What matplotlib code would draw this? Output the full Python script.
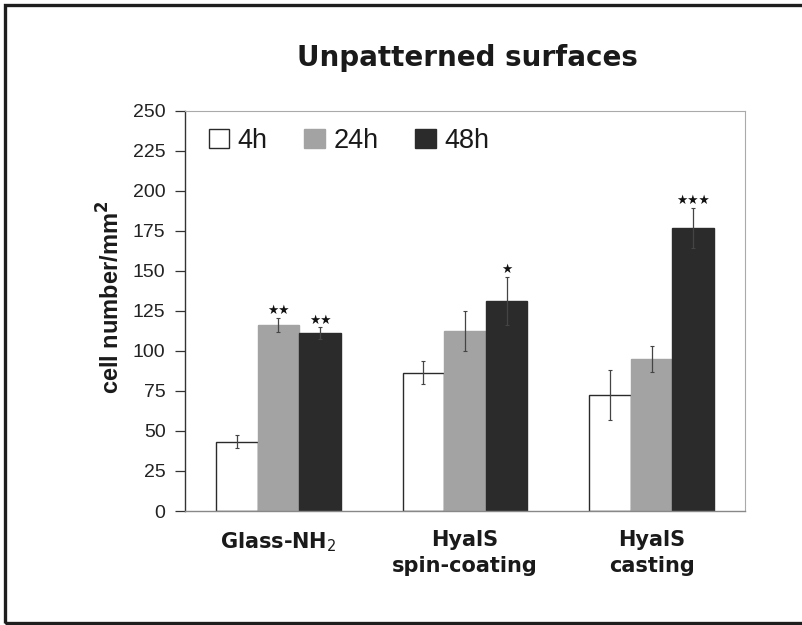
import matplotlib
matplotlib.use("Agg")
import matplotlib.pyplot as plt
from matplotlib.patches import Rectangle
import numpy as np

categories = ["Glass-NH$_2$", "HyalS\nspin-coating", "HyalS\ncasting"]
series = ["4h", "24h", "48h"]
values_4h = [43.3, 86.4, 72.5]
values_24h = [116.2, 112.6, 94.9]
values_48h = [111.2, 131.4, 177.0]
err_4h = [4.0, 7.3, 15.5]
err_24h = [4.5, 12.5, 8.0]
err_48h = [3.5, 15.0, 12.5]
stars_4h = ["", "", ""]
stars_24h = ["★★", "", ""]
stars_48h = ["★★", "★", "★★★"]
yticks = list(range(0, 251, 25))
title = "Unpatterned surfaces"
ylabel = "cell number/mm$^{\\mathbf{2}}$"

W, H = 803, 625
fig = plt.figure(figsize=(W / 100, H / 100), dpi=100)
fig.patch.set_facecolor("white")

# outer frame
fig.patches.append(Rectangle((5 / W, 2 / H), 1.2, 618 / H, transform=fig.transFigure,
                             fill=False, edgecolor="#1e1e1e", linewidth=2.4))

ax = fig.add_axes([185 / W, 1 - 511 / H, 560 / W, 400.3 / H])

x = np.arange(len(categories))
bw = 0.223
colors = ["white", "#a3a3a3", "#2b2b2b"]
edges = ["#2a2a2a", "#a3a3a3", "#2b2b2b"]
all_vals = [values_4h, values_24h, values_48h]
all_errs = [err_4h, err_24h, err_48h]
all_stars = [stars_4h, stars_24h, stars_48h]
handles = []
for i, (vals, errs, stars) in enumerate(zip(all_vals, all_errs, all_stars)):
    pos = x + (i - 1) * bw
    b = ax.bar(pos, vals, width=bw, color=colors[i], edgecolor=edges[i], linewidth=1.0,
               label=series[i], zorder=2)
    handles.append(b)
    ax.errorbar(pos, vals, yerr=errs, fmt="none", ecolor="#444444", elinewidth=0.9,
                capsize=1.5, capthick=0.8, zorder=3)
    for p, v, e, s in zip(pos, vals, errs, stars):
        if s:
            ax.text(p, v + e + 4.5, s, ha="center", va="center", fontsize=9,
                    family="DejaVu Sans", color="#111111")

ax.set_xlim(-0.5, 2.5)
ax.set_ylim(0, 250)
ax.set_yticks(yticks)
ax.set_yticklabels([str(t) for t in yticks], fontsize=14, family="Liberation Sans",
                   color="#222222")
ax.tick_params(axis="y", direction="out", length=7, width=0.9, pad=7, color="#333333")
ax.set_xticks(x)
ax.set_xticklabels(categories, fontsize=15, fontweight="bold", family="DejaVu Sans",
                   color="#1a1a1a", linespacing=1.35)
ax.tick_params(axis="x", length=0, pad=14)

ax.spines["left"].set_color("#333333")
ax.spines["left"].set_linewidth(1.0)
ax.spines["bottom"].set_color("#888888")
ax.spines["bottom"].set_linewidth(1.0)
for s in ["top", "right"]:
    ax.spines[s].set_color("#aaaaaa")
    ax.spines[s].set_linewidth(0.8)
    ax.spines[s].set_linestyle((0, (2, 1)))

fig.text(467 / W, 1 - 58 / H, title, ha="center", va="center", fontsize=20,
         fontweight="bold", family="DejaVu Sans", color="#1a1a1a")
fig.text(111 / W, 1 - 297 / H, ylabel, rotation=90, ha="center", va="center",
         fontsize=17, fontweight="bold", family="Liberation Sans", color="#1a1a1a")

leg = ax.legend(handles=handles, labels=series, loc="center left",
                bbox_to_anchor=(195 / W, 1 - 141 / H), bbox_transform=fig.transFigure,
                ncol=3, frameon=False, borderpad=0, handlelength=0.75, handleheight=0.75,
                handletextpad=0.33, columnspacing=1.35,
                prop={"family": "Liberation Sans", "size": 19.5})
for t in leg.get_texts():
    t.set_color("#1a1a1a")

fig.savefig("out.png", dpi=100)
